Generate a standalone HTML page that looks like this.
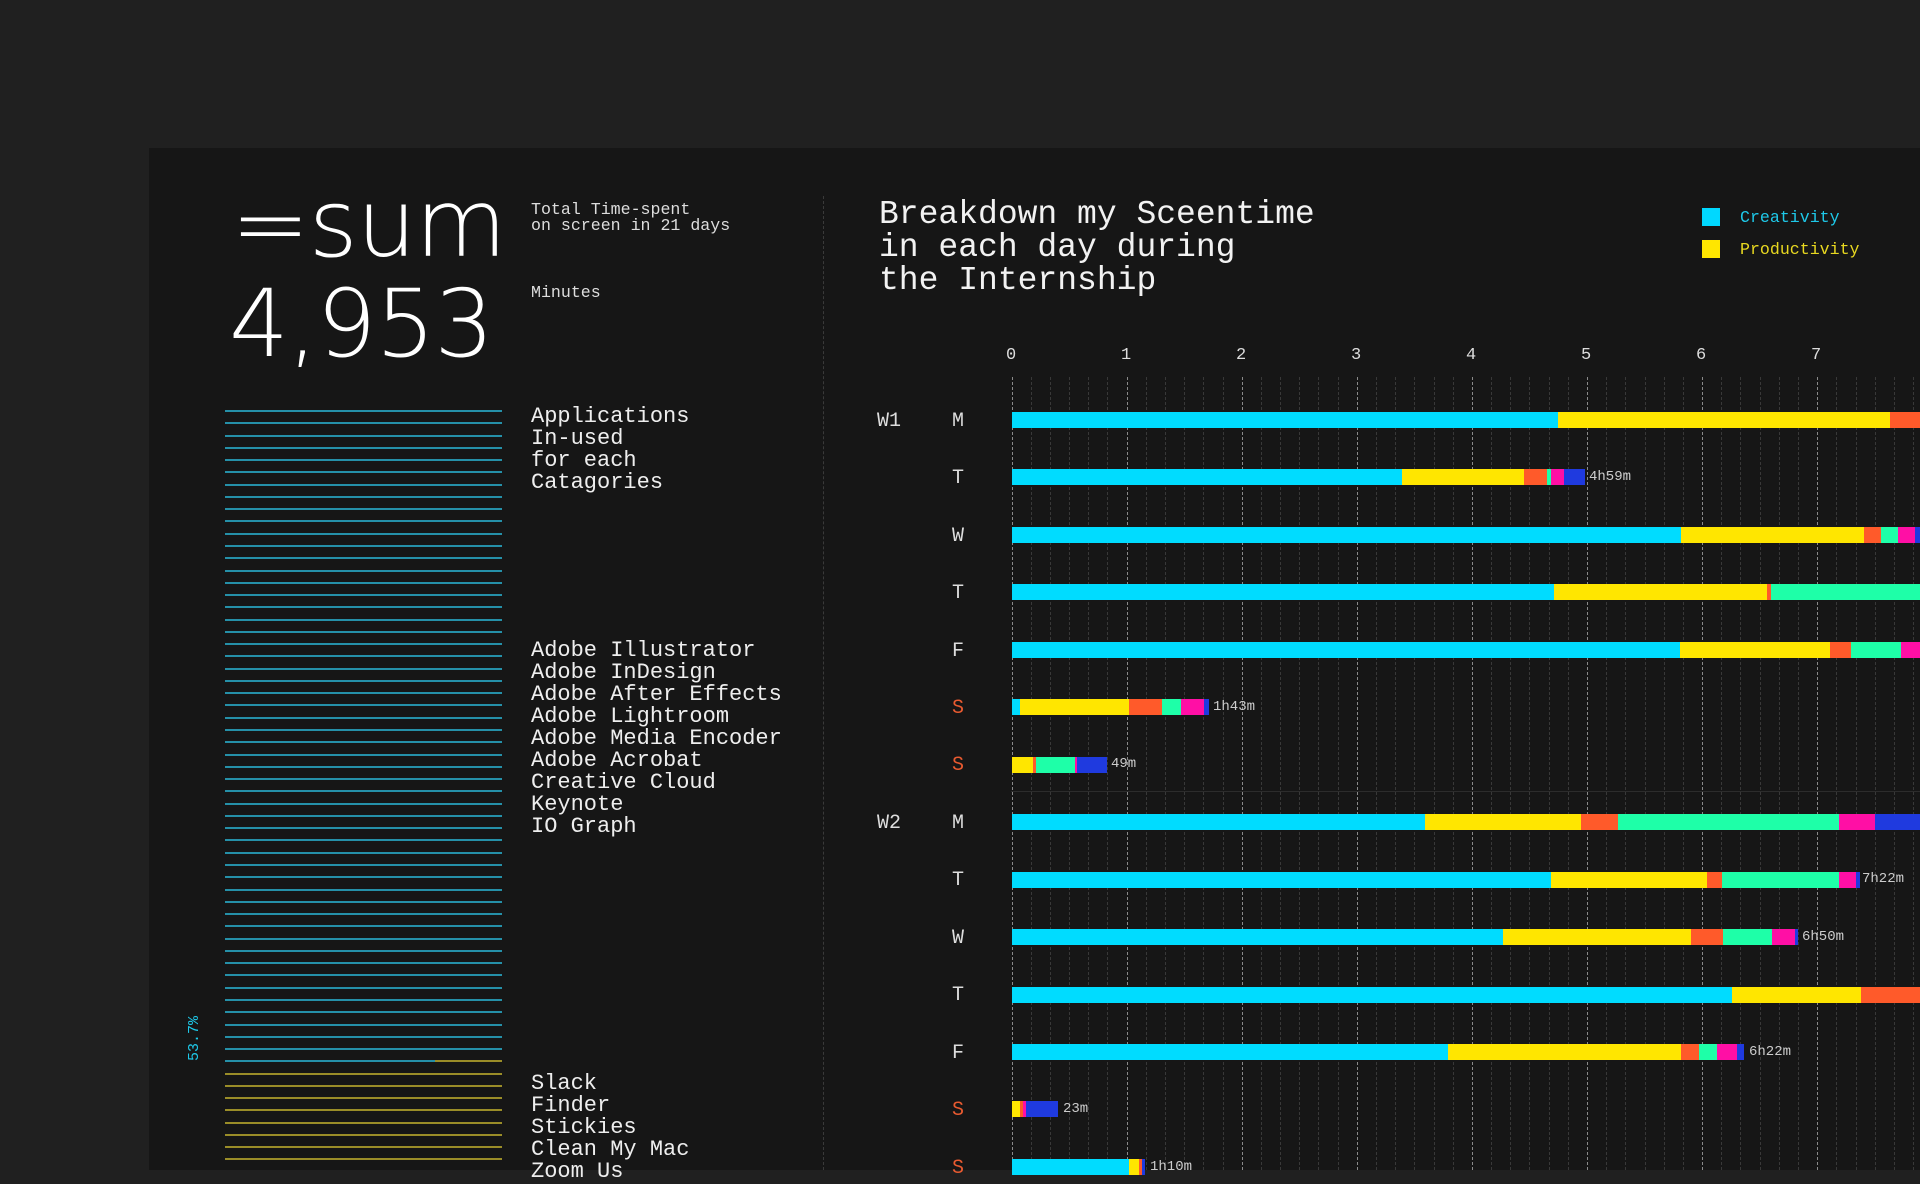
<!DOCTYPE html>
<html><head><meta charset="utf-8">
<style>
html,body{margin:0;padding:0;}
body{width:1920px;height:1170px;background:#202020;position:relative;overflow:hidden;font-family:"Liberation Mono","DejaVu Sans Mono",monospace;color:#ddd;}
#panel{position:absolute;left:149px;top:148px;width:1771px;height:1022px;background:#161616;}
.t{position:absolute;white-space:pre;}
.big{font-family:"DejaVu Sans","Liberation Sans",sans-serif;font-weight:200;color:#fff;font-size:94px;line-height:94px;}
.sm{font-size:16.6px;line-height:16px;color:#ddd;}
.md{font-size:22px;line-height:22px;color:#eee;}
.ax{font-size:17px;color:#ddd;}
.rl{font-size:20px;color:#ddd;}
.bl{font-size:14px;color:#ccc;}
.or{color:#e85a30;}
</style></head><body>
<div id="panel"></div>
<div id="g"></div>
<div class="t big" style="left:231px;top:178px;letter-spacing:-1px;">=sum</div>
<div class="t big" style="left:229px;top:278px;letter-spacing:-1px;">4,953</div>
<div class="t sm" style="left:531px;top:202px;">Total Time-spent
on screen in 21 days</div>
<div class="t sm" style="left:531px;top:285px;">Minutes</div>
<div class="t md" style="left:531px;top:406px;">Applications
In-used
for each
Catagories</div>
<div class="t md" style="left:531px;top:640px;">Adobe Illustrator
Adobe InDesign
Adobe After Effects
Adobe Lightroom
Adobe Media Encoder
Adobe Acrobat
Creative Cloud
Keynote
IO Graph</div>
<div class="t md" style="left:531px;top:1073px;">Slack
Finder
Stickies
Clean My Mac
Zoom Us</div>
<div class="t" style="left:172px;top:1030px;font-size:15px;color:#1ec8e8;transform:rotate(-90deg);">53.7%</div>
<div class="t" style="left:879px;top:198px;font-size:33px;line-height:33px;color:#f2f2f2;">Breakdown my Sceentime
in each day during
the Internship</div>
<div style="position:absolute;left:1702px;top:208px;width:18px;height:18px;background:#00d8ff;"></div>
<div style="position:absolute;left:1702px;top:240px;width:18px;height:18px;background:#ffe600;"></div>
<div class="t sm" style="left:1740px;top:210px;color:#1ec8e8;">Creativity</div>
<div class="t sm" style="left:1740px;top:242px;color:#e8d820;">Productivity</div>
<div class="t ax" style="left:1006px;top:346px;">0</div>
<div class="t ax" style="left:1121px;top:346px;">1</div>
<div class="t ax" style="left:1236px;top:346px;">2</div>
<div class="t ax" style="left:1351px;top:346px;">3</div>
<div class="t ax" style="left:1466px;top:346px;">4</div>
<div class="t ax" style="left:1581px;top:346px;">5</div>
<div class="t ax" style="left:1696px;top:346px;">6</div>
<div class="t ax" style="left:1811px;top:346px;">7</div>
<div class="t rl" style="left:877px;top:410px;">W1</div>
<div class="t rl" style="left:877px;top:812px;">W2</div>
<div class="t rl" style="left:952px;top:410px;">M</div>
<div class="t rl" style="left:952px;top:467px;">T</div>
<div class="t rl" style="left:952px;top:525px;">W</div>
<div class="t rl" style="left:952px;top:582px;">T</div>
<div class="t rl" style="left:952px;top:640px;">F</div>
<div class="t rl or" style="left:952px;top:697px;">S</div>
<div class="t rl or" style="left:952px;top:754px;">S</div>
<div class="t rl" style="left:952px;top:812px;">M</div>
<div class="t rl" style="left:952px;top:869px;">T</div>
<div class="t rl" style="left:952px;top:927px;">W</div>
<div class="t rl" style="left:952px;top:984px;">T</div>
<div class="t rl" style="left:952px;top:1042px;">F</div>
<div class="t rl or" style="left:952px;top:1099px;">S</div>
<div class="t rl or" style="left:952px;top:1157px;">S</div>
<div class="t bl" style="left:1589px;top:469px;">4h59m</div>
<div class="t bl" style="left:1213px;top:699px;">1h43m</div>
<div class="t bl" style="left:1111px;top:756px;">49m</div>
<div class="t bl" style="left:1862px;top:871px;">7h22m</div>
<div class="t bl" style="left:1802px;top:929px;">6h50m</div>
<div class="t bl" style="left:1749px;top:1044px;">6h22m</div>
<div class="t bl" style="left:1063px;top:1101px;">23m</div>
<div class="t bl" style="left:1150px;top:1159px;">1h10m</div>
<script>
var g=document.getElementById('g'),h='';
function r(x,y,w,hh,c,extra){h+='<div style="position:absolute;left:'+x+'px;top:'+y+'px;width:'+w+'px;height:'+hh+'px;'+(c?'background:'+c+';':'')+(extra||'')+'"></div>';}
for(var i=0;i<63;i++){var y=Math.round(410+i*12.27);if(y>1170)break;
 if(i<53)r(225,y,277,2,'#2590a8');else if(i==53){r(225,y,210,2,'#2590a8');r(435,y,67,2,'#9a8d28');}else r(225,y,277,2,'#9a8d28');}
r(823,196,0,974,null,'border-left:1px dashed #3a3a3a;');
var X0=1011.5,H=115.1;
for(var k=0;k<=48;k++){var x=Math.round(X0+k*H/6);if(x>1920)break;
 if(k%6==0)r(x,377,0,793,null,'border-left:1px dashed #8a8a8a;');
 else r(x,377,0,793,null,'border-left:1px dashed #383838;');}
r(1011,791,909,1,'#2c2c2c');
var C={c:'#00dcff',y:'#ffe600',o:'#ff5a2a',g:'#1effa8',m:'#ff0fa5',b:'#1f3adf'};
var rows=[
[['c',4.745],['y',7.63],['o',9]],
[['c',3.39],['y',4.45],['o',4.65],['g',4.69],['m',4.80],['b',4.98]],
[['c',5.82],['y',7.41],['o',7.55],['g',7.70],['m',7.85],['b',9]],
[['c',4.71],['y',6.56],['o',6.60],['g',9]],
[['c',5.81],['y',7.11],['o',7.29],['g',7.73],['m',9]],
[['c',0.07],['y',1.02],['o',1.31],['g',1.47],['m',1.67],['b',1.72]],
[['y',0.19],['o',0.21],['g',0.55],['m',0.57],['b',0.83]],
[['c',3.59],['y',4.95],['o',5.27],['g',7.19],['m',7.50],['b',9]],
[['c',4.69],['y',6.04],['o',6.17],['g',7.19],['m',7.34],['b',7.37]],
[['c',4.27],['y',5.90],['o',6.18],['g',6.61],['m',6.81],['b',6.83]],
[['c',6.26],['y',7.38],['o',9]],
[['c',3.79],['y',5.82],['o',5.97],['g',6.13],['m',6.30],['b',6.36]],
[['y',0.07],['o',0.10],['m',0.13],['b',0.40]],
[['c',1.02],['y',1.11],['o',1.13],['b',1.16]]];
for(var i=0;i<rows.length;i++){var yc=Math.round(420+i*57.45),p=0;
 rows[i].forEach(function(s){var a=X0+p*H,b=Math.min(1920,X0+s[1]*H);r(a,yc-8,b-a,16,C[s[0]]);p=s[1];});}
g.innerHTML=h;
</script>
</body></html>
